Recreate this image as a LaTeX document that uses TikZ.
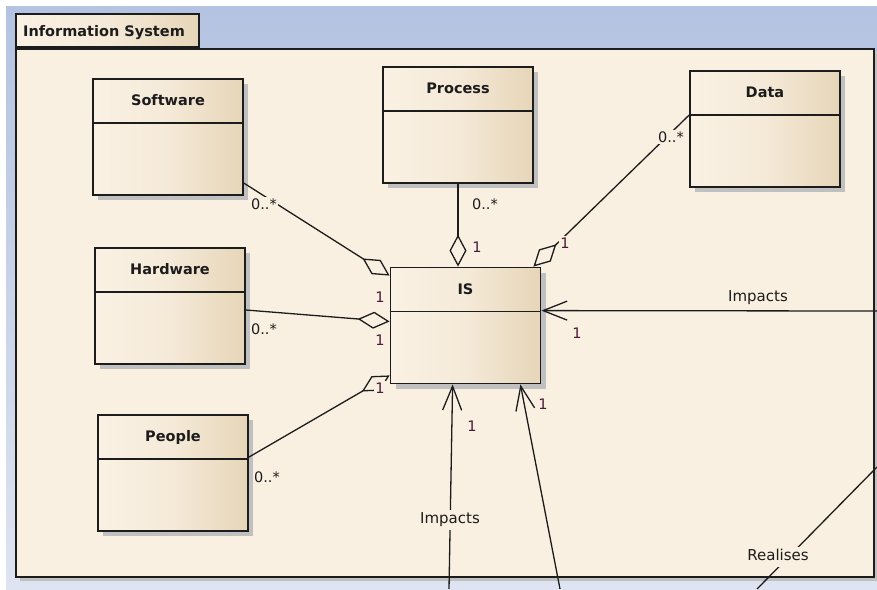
\documentclass[tikz,border=0pt]{standalone}
\usepackage{fontspec}
\setmainfont{DejaVu Sans}
\usetikzlibrary{calc,shadows,arrows.meta}

\definecolor{bgtop}{RGB}{180,195,225}
\definecolor{bgbot}{RGB}{222,228,241}
\definecolor{pkgfill}{RGB}{250,240,225}
\definecolor{clsleft}{RGB}{250,241,228}
\definecolor{clsmid}{RGB}{245,234,216}
\definecolor{clsright}{RGB}{230,213,184}
\definecolor{ink}{RGB}{28,28,28}
\definecolor{shadowgrey}{RGB}{192,192,192}
\definecolor{multink}{RGB}{75,25,55}

\begin{document}
\begin{tikzpicture}[x=1pt,y=-1pt,
  boxshadow/.style={drop shadow={shadow xshift=5pt,shadow yshift=-5pt,fill=shadowgrey,opacity=1}},
  classbox/.style={draw=ink,line width=1.8pt,inner sep=0pt,
    minimum width=150pt,minimum height=116pt,
    left color=clsleft,right color=clsright,middle color=clsmid,boxshadow},
  classname/.style={font=\fontsize{14.5}{16}\selectfont\bfseries,text=ink,inner sep=0pt,
    text height=10.5pt,text depth=0pt},
  divider/.style={draw=ink,line width=1.5pt},
  conn/.style={draw=ink,line width=1.3pt},
  aggr/.style={conn,-{Diamond[open,length=32pt,width=17pt,line width=1.3pt]}},
  dep/.style={conn,-{Straight Barb[length=24pt,width=19pt,line width=1.3pt]}},
  mult/.style={font=\fontsize{14.5}{16}\selectfont,text=ink,fill=pkgfill,inner sep=1.5pt,
    text height=10.5pt,text depth=0pt},
  one/.style={mult,text=multink},
  role/.style={font=\fontsize{15}{16}\selectfont,text=ink,inner sep=3pt,
    text height=10.5pt,text depth=3pt},
]
\useasboundingbox (0,0) rectangle (877,589);

% backdrop
\shade[top color=bgtop,bottom color=bgbot] (6,6) rectangle (877,589);

% package frame with its name tab
\node[draw=ink,line width=1.8pt,fill=pkgfill,inner sep=0pt,anchor=north west,
  minimum width=858pt,minimum height=528pt,
  drop shadow={shadow xshift=4pt,shadow yshift=-4pt,fill=shadowgrey,opacity=1}]
  (pkg) at (15,48) {};
\node[draw=ink,line width=1.8pt,inner sep=0pt,anchor=south west,
  minimum width=183pt,minimum height=33pt,
  left color=clsleft,right color=clsright,middle color=clsmid] (tab) at (15,48) {};
\node[classname,anchor=west] (tabname) at ($(tab.west)+(8,0.5)$) {Information System};

% classes
\foreach \n/\cx/\cy/\t in {sw/168/137/Software, ps/458/125/Process, dt/765/129/Data,
  hw/170/306/Hardware, is/465.5/325.5/IS, pp/173/473/People}{
  \node[classbox] (\n) at (\cx,\cy) {};
  \node[classname] (\n name) at ($(\n.north)+(0,22.5)$) {\t};
  \draw[divider] ($(\n.north west)+(0,45)$) -- ($(\n.north east)+(0,45)$);
}

% aggregations into IS
\draw[aggr] ($(sw.north east)+(0,105)$) -- ($(is.north west)+(0,9)$);
\draw[aggr] ($(hw.east)+(0,4)$) -- ($(is.west)+(0,-4)$);
\draw[aggr] ($(pp.north east)+(0,43)$) -- ($(is.south west)+(0,-9)$);
\draw[aggr] (ps.south) -- (ps.south |- is.north);
\draw[aggr] ($(dt.north west)+(0,45)$) -- ($(is.north east)+(-8,0)$);

% multiplicities
\node[mult] (m1) at (264,204) {0..*};
\node[one]  (o1) at (380,297) {1};
\node[mult] (m2) at (264,329) {0..*};
\node[one]  (o2) at (380,340) {1};
\node[mult] (m3) at (267,477) {0..*};
\node[one]  (o3) at (380,388) {1};
\node[mult] (m4) at (485,204) {0..*};
\node[one]  (o4) at (477,247) {1};
\node[mult] (m5) at (671,137) {0..*};
\node[one]  (o5) at (565,243) {1};

% incoming dependencies from outside the package
\coordinate (rin) at (877,311);
\draw[dep] (rin) -- ($(is.north east)+(0,44)$);
\node[role] (rimp) at (758,298) {Impacts};
\node[one]  (o6) at (577,333) {1};

\coordinate (bin) at (449,589);
\draw[dep] (bin) -- ($(is.south west)+(63,0)$);
\node[role,fill=pkgfill] (bimp) at (450,520) {Impacts};
\node[one]  (o7) at (472,426) {1};

\coordinate (bin2) at (560,589);
\draw[dep] (bin2) -- ($(is.south east)+(-21,0)$);
\node[one]  (o8) at (543,404) {1};

\coordinate (rla) at (877,467);
\coordinate (rlb) at (757,589);
\draw[conn] (rla) -- (rlb);
\node[role,fill=pkgfill] (real) at (778,557) {Realises};
\end{tikzpicture}
\end{document}
